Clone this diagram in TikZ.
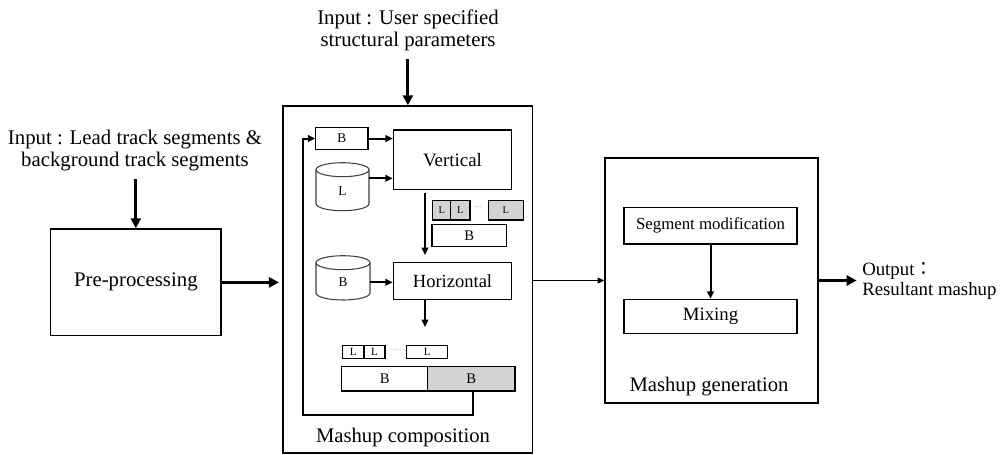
\documentclass[tikz,border=0pt]{standalone}
\usepackage{fontspec}
\setmainfont{Liberation Serif}
\newfontfamily\cjk{Noto Sans CJK TC}
\usetikzlibrary{arrows.meta,fit}
\definecolor{segfill}{HTML}{D3D3D3}
\definecolor{drumline}{HTML}{404040}
\newcommand\fs[1]{\fontsize{#1}{#1}\selectfont}
\begin{document}
\begin{tikzpicture}[x=0.75pt,y=-0.75pt,
  bigbox/.style={draw, line width=1.1pt, inner sep=0pt},
  inbox/.style={draw, line width=0.9pt, inner sep=0pt},
  seg/.style={draw, line width=0.8pt, inner sep=0pt},
  grayseg/.style={seg, fill=segfill},
  drum/.style={draw=drumline, line width=0.8pt},
  thickarrow/.style={line width=2.2pt, -{Triangle[length=7.5pt,width=7.5pt]}},
  midarrow/.style={line width=1.5pt, -{Triangle[length=5.5pt,width=5pt]}},
  thinarrow/.style={line width=0.8pt, -{Triangle[length=5pt,width=4.5pt]}},
  caption/.style={inner sep=0pt, align=center, font=\fontsize{15.6}{16.5}\selectfont}]
\useasboundingbox (0,0) rectangle (1000,454);

% input texts
\node[caption] (inlead) at (135,150.5)
  {Input : Lead track segments \&\\ background track segments};
\node[caption] (inuser) at (408,30.5)
  {Input : User specified\\ structural parameters};

% main stages
\node[bigbox, fit={(50.7,229) (221,335.7)}] (pre) {};
\node[font=\fs{15.6}] at (pre.center) {Pre-processing};
\node[bigbox, fit={(283,106) (532.7,453)}] (comp) {};
\node[bigbox, fit={(605,158) (818,403)}] (gen) {};
\node[font=\fs{15.5}] (compl) at (403,438) {Mashup composition};
\node[font=\fs{15.5}] (genl) at (709,387) {Mashup generation};

% mashup generation internals
\node[inbox, fit={(624,207.7) (797,244)}] (segmod) {};
\node[font=\fs{12.6}] at (segmod.center) {Segment modification};
\node[inbox, fit={(624,299.3) (797,333.3)}] (mix) {};
\node[font=\fs{14.1}] at (mix.center) {Mixing};

% output
\node[anchor=west, inner sep=0pt, align=left, font=\fontsize{14.1}{15.5}\selectfont]
  (out) at (862,281) {Output{\cjk ：}\\Resultant mashup};

% mashup composition internals
\node[inbox, fit={(393.3,130) (511.7,189.3)}] (vert) {};
\node[font=\fs{14.2}] at (vert.center) {Vertical};
\node[inbox, fit={(393.3,262.3) (511.7,299.3)}] (horiz) {};
\node[font=\fs{13.9}] at (horiz.center) {Horizontal};
\node[seg, fit={(315.7,127.7) (368,149.3)}] (btop) {};
\node[font=\fs{10}] at (btop.center) {B};

% drums holding the L and B segments
\node[inner sep=0pt, fit={(316,162.7) (369,210.7)}] (cylL) {};
\draw[drum] (316,169.7) -- (316,203.7)
  arc[start angle=180, end angle=0, x radius=26.5, y radius=7] -- (369,169.7);
\draw[drum] (342.5,169.7) ellipse[x radius=26.5, y radius=7];
\node[font=\fs{10}] at (342.5,191.5) {L};
\node[inner sep=0pt, fit={(316,255.7) (370,300)}] (cylB) {};
\draw[drum] (316,262.7) -- (316,293)
  arc[start angle=180, end angle=0, x radius=27, y radius=7] -- (370,262.7);
\draw[drum] (343,262.7) ellipse[x radius=27, y radius=7];
\node[font=\fs{10}] at (343,282.3) {B};

% vertical result
\node[grayseg, fit={(432.7,200.7) (450.7,220)}] (gl1) {};
\node[grayseg, fit={(450.7,200.7) (470,220)}] (gl2) {};
\node[grayseg, fit={(488.3,200.7) (523.3,220)}] (gl3) {};
\foreach \n in {gl1,gl2,gl3} \node[font=\fs{7.8}] at (\n.center) {L};
\node[font=\fs{6}, text=gray] at (478.5,208) {···};
\node[seg, fit={(432,224.3) (506.7,246.7)}] (bmid) {};
\node[font=\fs{11}] at (bmid.center) {B};

% horizontal result
\node[seg, fit={(342.7,345.7) (364,358.3)}] (wl1) {};
\node[seg, fit={(364,345.7) (385,358.3)}] (wl2) {};
\node[seg, fit={(406.7,345.7) (447.7,358.3)}] (wl3) {};
\foreach \n in {wl1,wl2,wl3} \node[font=\fs{8.3}] at (\n.center) {L};
\node[font=\fs{6}, text=gray] at (397.5,351) {···};
\node[seg, fit={(341.7,366.7) (427.7,391)}] (bar1) {};
\node[grayseg, fit={(427.7,366.7) (515,391)}] (bar2) {};
\node[font=\fs{11}] at (bar1.center) {B};
\node[font=\fs{11}] at (bar2.center) {B};

% helper points
\coordinate (lrow) at (0,178.3);
\coordinate (vdrop) at (425,0);
\coordinate (hend) at (425,327);
\coordinate (fb) at (472.7,415);
\coordinate (fbl) at (302.7,415);

% connectors
\draw[thickarrow, shorten <=6pt] (inlead.south -| pre.north) -- (pre.north);
\draw[thickarrow, shorten <=6pt] (inuser.south -| comp.north) -- (comp.north);
\draw[thickarrow, shorten >=2.5pt] (pre.east) -- (comp.west |- pre.east);
\draw[thinarrow] (comp.east |- gen.west) -- (gen.west);
\draw[thickarrow, shorten >=4pt] (gen.east) -- (out.west |- gen.east);
\draw[midarrow] (segmod.south) -- (mix.north);
\draw[midarrow] (btop.east) -- (btop.east -| vert.west);
\draw[midarrow] (cylL.east |- lrow) -- (vert.west |- lrow);
\draw[midarrow] (cylB.east |- 0,282.3) -- (horiz.west |- 0,282.3);
\draw[midarrow, shorten <=2.5pt, shorten >=5pt] (vert.south -| vdrop) -- (horiz.north -| vdrop);
\draw[midarrow] (horiz.south -| hend) -- (hend);
\draw[midarrow] (bar2.south -| fb) -- (fb) -- (fbl) -- (fbl |- btop.west) -- (btop.west);
\end{tikzpicture}
\end{document}
